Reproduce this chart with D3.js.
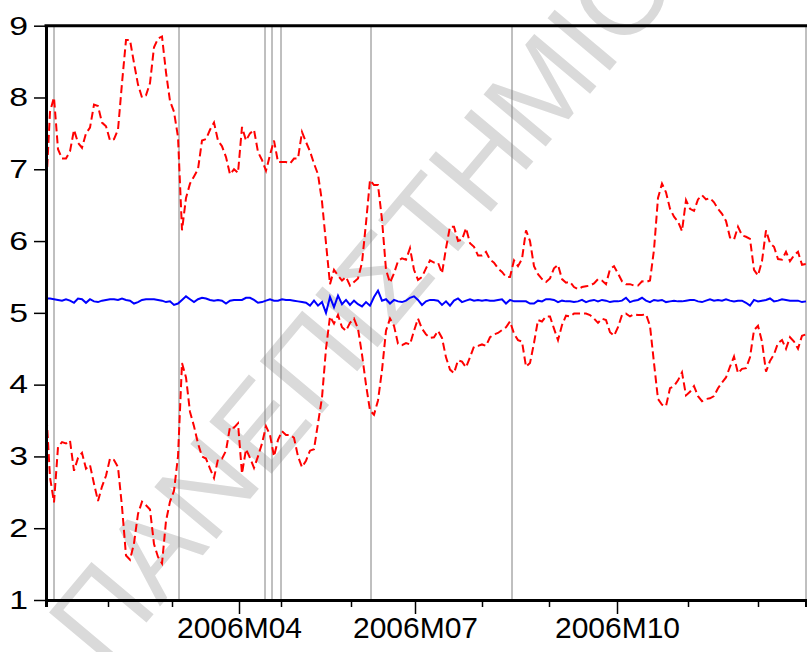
<!DOCTYPE html>
<html><head><meta charset="utf-8">
<script src="https://cdnjs.cloudflare.com/ajax/libs/d3/7.8.5/d3.min.js"></script>
<style>body{margin:0;background:#fff}svg{display:block}</style>
</head><body><svg id="c" width="807" height="652"></svg>
<script>
const upper = [6.7,7.8,8.0,7.28,7.15,7.15,7.25,7.55,7.37,7.3,7.5,7.58,7.9,7.88,7.65,7.6,7.4,7.42,7.55,8.2,
8.8,8.8,8.48,8.18,8.0,8.03,8.2,8.7,8.82,8.85,8.35,7.95,7.8,7.45,6.15,6.6,6.8,6.9,7.0,7.4,
7.42,7.55,7.65,7.4,7.32,7.17,6.93,7.0,6.95,7.59,7.4,7.5,7.55,7.24,7.13,6.98,7.2,7.4,7.1,7.1,
7.1,7.08,7.15,7.15,7.52,7.38,7.25,7.08,6.93,6.55,5.97,5.4,5.6,5.52,5.45,5.5,5.38,5.43,5.48,5.7,
6.25,6.85,6.78,6.78,6.3,5.6,5.42,5.55,5.72,5.76,5.74,5.9,5.6,5.46,5.5,5.62,5.73,5.7,5.7,5.55,
5.9,6.2,6.2,6.0,6.02,6.18,5.97,5.92,5.8,5.8,5.85,5.74,5.7,5.62,5.57,5.5,5.5,5.73,5.65,5.75,
6.15,6.0,5.65,5.54,5.47,5.43,5.48,5.62,5.67,5.47,5.42,5.43,5.36,5.33,5.36,5.37,5.38,5.41,5.47,5.45,
5.4,5.61,5.65,5.55,5.44,5.4,5.4,5.38,5.38,5.44,5.43,5.45,5.88,6.6,6.8,6.68,6.45,6.34,6.27,6.14,
6.57,6.45,6.42,6.58,6.64,6.58,6.6,6.54,6.45,6.38,6.28,6.05,6.02,6.2,6.08,6.06,6.03,5.6,5.52,5.72,
6.15,5.97,5.92,5.75,5.74,5.85,5.72,5.8,5.85,5.67,5.68];
const lower = [3.7,2.71,2.36,3.13,3.2,3.18,3.22,2.8,2.98,3.05,2.83,2.88,2.62,2.38,2.58,2.73,2.97,2.95,2.85,2.3,
1.62,1.56,1.79,2.2,2.37,2.32,2.26,1.78,1.6,1.51,2.1,2.37,2.52,3.0,4.3,4.1,3.62,3.42,3.18,3.0,
2.97,2.83,2.7,2.96,2.97,3.08,3.41,3.4,3.46,2.76,3.1,2.98,2.84,3.0,3.18,3.42,3.3,3.0,3.23,3.35,
3.3,3.3,3.26,3.0,2.85,2.94,3.08,3.1,3.46,3.82,4.5,4.95,4.85,4.97,4.8,4.75,4.86,4.92,4.78,4.42,
4.0,3.64,3.58,3.78,4.2,4.75,4.92,4.82,4.57,4.55,4.58,4.56,4.75,4.92,4.78,4.7,4.65,4.66,4.75,4.65,
4.38,4.21,4.16,4.34,4.32,4.24,4.38,4.53,4.54,4.56,4.54,4.66,4.7,4.72,4.76,4.8,4.88,4.71,4.62,4.6,
4.25,4.3,4.58,4.9,4.88,4.95,4.95,4.78,4.62,4.83,4.96,4.95,4.99,4.99,4.99,4.99,4.97,4.92,4.86,4.92,
4.9,4.73,4.68,4.8,4.97,4.99,4.95,4.98,4.97,4.97,4.98,4.82,4.3,3.8,3.72,3.7,3.95,3.98,4.06,4.17,
3.85,3.9,3.98,3.84,3.77,3.8,3.81,3.84,3.95,4.03,4.1,4.25,4.39,4.16,4.22,4.23,4.38,4.76,4.82,4.6,
4.18,4.33,4.42,4.58,4.62,4.5,4.66,4.6,4.5,4.68,4.7];
const forecast = [5.20,5.20,5.19,5.18,5.17,5.19,5.17,5.14,5.20,5.19,5.14,5.19,5.16,5.15,5.17,5.18,5.19,5.19,5.18,5.20,
5.18,5.17,5.13,5.15,5.18,5.19,5.19,5.19,5.18,5.17,5.15,5.16,5.11,5.13,5.18,5.23,5.19,5.15,5.19,5.21,
5.20,5.18,5.17,5.18,5.17,5.13,5.17,5.18,5.18,5.18,5.21,5.21,5.18,5.14,5.15,5.17,5.19,5.17,5.17,5.19,
5.18,5.18,5.17,5.16,5.15,5.14,5.10,5.17,5.10,5.15,5.00,5.22,5.08,5.24,5.12,5.18,5.11,5.17,5.12,5.09,
5.15,5.10,5.22,5.31,5.17,5.19,5.13,5.18,5.16,5.15,5.17,5.21,5.23,5.18,5.11,5.16,5.18,5.18,5.17,5.11,
5.16,5.10,5.17,5.20,5.15,5.17,5.19,5.17,5.18,5.17,5.18,5.17,5.17,5.18,5.19,5.13,5.18,5.16,5.16,5.16,
5.16,5.13,5.13,5.17,5.16,5.19,5.19,5.18,5.15,5.17,5.16,5.16,5.15,5.16,5.18,5.15,5.17,5.18,5.16,5.18,
5.17,5.15,5.16,5.16,5.17,5.21,5.15,5.17,5.18,5.21,5.17,5.15,5.18,5.17,5.18,5.15,5.16,5.17,5.16,5.16,
5.17,5.18,5.18,5.16,5.15,5.17,5.19,5.17,5.18,5.17,5.19,5.17,5.16,5.17,5.17,5.14,5.10,5.18,5.16,5.17,
5.18,5.20,5.16,5.17,5.19,5.18,5.17,5.17,5.17,5.15,5.16];
const yTicks = [1,2,3,4,5,6,7,8,9];
const xTickIdx = [15.5,31.5,48.25,58.75,76.25,92.25,109,125.75,142.75,160.5,178];
const xTickLabels = ["","","2006M04","","","2006M07","","","2006M10","",""];
const eventIdx = [2,33.25,54.75,56.5,58.75,81.25,116.5];
const watermark = "ΠΑΝΕΠΙΣΤΗΜΙΟ";

const svg = d3.select("#c");
const N = upper.length;
const x = d3.scaleLinear().domain([0, N-1]).range([46, 806]);
const y = d3.scaleLinear().domain([1, 9]).range([600, 25.7]);

// watermark
svg.append("text").attr("transform","translate(105,672) rotate(-50)")
  .attr("font-family","Liberation Sans, Arial, sans-serif").attr("font-size",118)
  .attr("fill","#dadada").text(watermark);

// event lines
svg.append("g").selectAll("line").data(eventIdx).join("line")
  .attr("x1",d=>x(d)).attr("x2",d=>x(d)).attr("y1",y(9)).attr("y2",y(1))
  .attr("stroke","#808080").attr("stroke-width",1);
svg.append("line").attr("x1",806).attr("x2",806).attr("y1",y(9)).attr("y2",y(1))
  .attr("stroke","#808080").attr("stroke-width",1);

const line = arr => d3.line().x((d,i)=>x(i)).y(d=>y(d))(arr);
svg.append("path").attr("d",line(upper)).attr("fill","none").attr("stroke","#ff0000")
  .attr("stroke-width",2).attr("stroke-dasharray","8,4");
svg.append("path").attr("d",line(lower)).attr("fill","none").attr("stroke","#ff0000")
  .attr("stroke-width",2).attr("stroke-dasharray","8,4");
svg.append("path").attr("d",line(forecast)).attr("fill","none").attr("stroke","#0000ff")
  .attr("stroke-width",2);

// y axis
const ya = svg.append("g").attr("transform","translate(46,0)")
  .call(d3.axisLeft(y).tickValues(yTicks).tickSize(12).tickSizeOuter(0).tickPadding(6));
ya.select(".domain").attr("stroke","#000").attr("stroke-width",3);
ya.selectAll(".tick line").attr("stroke-width",1.5);
ya.selectAll(".tick text").attr("font-family","Liberation Sans, Arial, sans-serif").attr("font-size",26)
  .attr("fill","#000").attr("x",-18/1.3).attr("transform","scale(1.3,1)");

// x axis
const xa = svg.append("g").attr("transform",`translate(0,${y(1)})`)
  .call(d3.axisBottom(x).tickValues(xTickIdx).tickFormat((d,i)=>xTickLabels[i]).tickSizeOuter(0).tickSize(7).tickPadding(10));
xa.select(".domain").attr("stroke","#000").attr("stroke-width",3);
xa.selectAll(".tick line").attr("stroke-width",1.5).attr("y2",(d,i)=>xTickLabels[i]?14:7);
xa.selectAll(".tick text").attr("font-family","Liberation Sans, Arial, sans-serif").attr("font-size",30).attr("fill","#000");

// top border
svg.append("line").attr("x1",44.5).attr("x2",807).attr("y1",y(9)).attr("y2",y(9))
  .attr("stroke","#000").attr("stroke-width",3);
</script></body></html>
